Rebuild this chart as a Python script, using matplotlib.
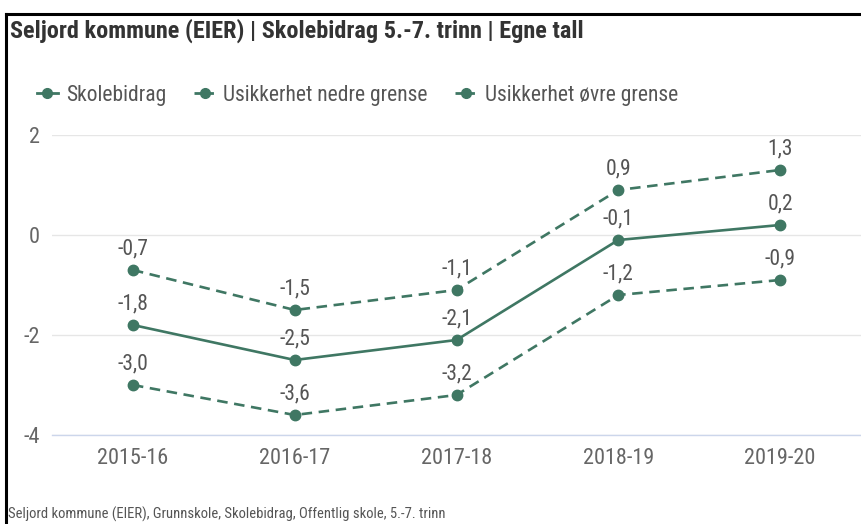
import matplotlib.pyplot as plt
from matplotlib.lines import Line2D

plt.rcParams['font.family'] = ['Roboto Condensed', 'Roboto', 'DejaVu Sans']

years = ['2015-16', '2016-17', '2017-18', '2018-19', '2019-20']
skolebidrag = [-1.8, -2.5, -2.1, -0.1, 0.2]
nedre = [-3.0, -3.6, -3.2, -1.2, -0.9]
ovre = [-0.7, -1.5, -1.1, 0.9, 1.3]
yticks = [-4, -2, 0, 2]

green = '#3f7763'
text_gray = '#555555'

W, H = 861, 524
fig = plt.figure(figsize=(W / 100, H / 100), dpi=100)
ax = fig.add_axes([52 / W, (H - 435) / H, (W - 52) / W, 300 / H])

x = list(range(len(years)))
dash = (0, (4, 2.5))
series = [
    ('Skolebidrag', skolebidrag, '-'),
    ('Usikkerhet nedre grense', nedre, dash),
    ('Usikkerhet øvre grense', ovre, dash),
]
for name, vals, ls in series:
    ax.plot(x, vals, color=green, linestyle=ls, linewidth=1.9, marker='o',
            markersize=7.5, label=name, clip_on=False, zorder=3)
    for xi, v in zip(x, vals):
        ax.annotate(f'{v:.1f}'.replace('.', ','), (xi, v), xytext=(0, 7.5),
                    textcoords='offset points', ha='center', va='bottom',
                    fontsize=15.5, color=text_gray)

ax.set_xlim(-0.5, 4.5)
ax.set_ylim(-4, 2)
ax.set_xticks(x)
ax.set_xticklabels(years)
ax.set_yticks(yticks)
ax.set_yticklabels([str(t) for t in yticks])
ax.tick_params(axis='both', length=0, labelsize=16, labelcolor='#666666')
ax.tick_params(axis='x', pad=9)
ax.tick_params(axis='y', pad=9)
ax.grid(axis='y', color='#e6e6e6', linewidth=1)
for s in ['top', 'right', 'left']:
    ax.spines[s].set_visible(False)
ax.spines['bottom'].set_color('#ccd6eb')
ax.spines['bottom'].set_linewidth(1)

handles = [
    Line2D([0], [0], color=green, lw=2, marker='o', markersize=7),
    Line2D([0], [0], color=green, lw=2, ls=(0, (3, 1)), marker='o', markersize=7),
    Line2D([0], [0], color=green, lw=2, ls=(0, (3, 1)), marker='o', markersize=7),
]
fig.legend(handles, [s[0] for s in series], loc='center left',
           bbox_to_anchor=(28 / W, 1 - 95 / H), ncol=3, frameon=False,
           fontsize=15.5, labelcolor=text_gray, handlelength=1.0,
           handletextpad=0.35, columnspacing=1.3, borderaxespad=0)

fig.text(10 / W, 1 - 31 / H, 'Seljord kommune (EIER) | Skolebidrag 5.-7. trinn | Egne tall',
         fontsize=17.5, fontweight='bold', color='#333333', va='center', ha='left')
fig.text(8 / W, 1 - 514 / H,
         'Seljord kommune (EIER), Grunnskole, Skolebidrag, Offentlig skole, 5.-7. trinn',
         fontsize=10.5, color=text_gray, va='center', ha='left')

fig.add_artist(Line2D([6 / W, 1], [1 - 14 / H, 1 - 14 / H], color='black', lw=2.2))
fig.add_artist(Line2D([6 / W, 6 / W], [0, 1 - 14 / H], color='black', lw=2.2))

fig.savefig('out.png', dpi=100)
